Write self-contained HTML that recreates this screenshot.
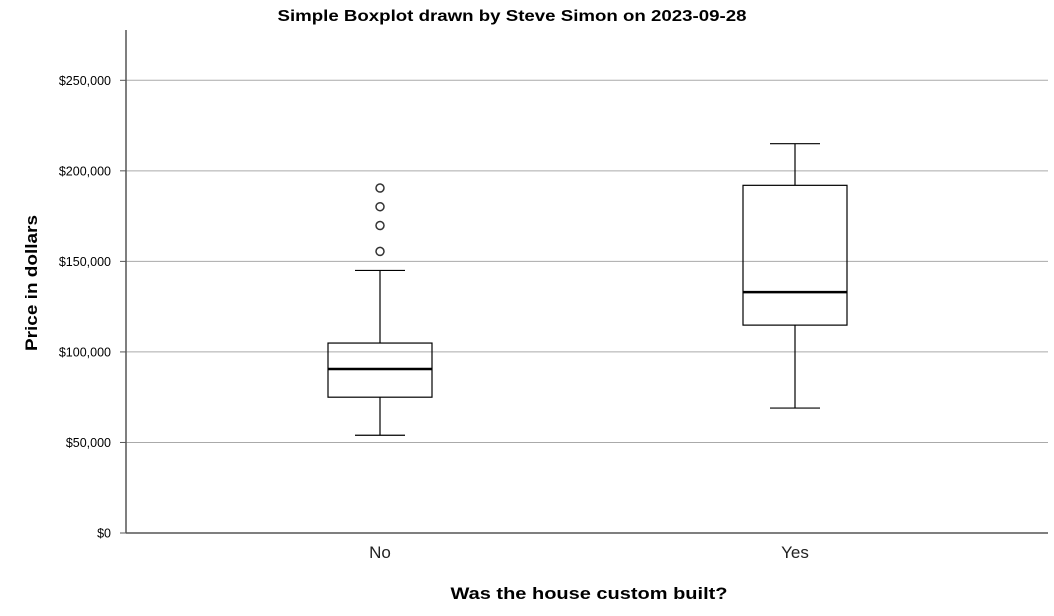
<!DOCTYPE html>
<html><head><meta charset="utf-8"><style>
body{margin:0;background:#fff;}
svg{display:block;font-family:"Liberation Sans",Arial,sans-serif;}
</style></head><body>
<svg id="chart" width="1054" height="616">
<text x="512" y="21" text-anchor="middle" font-size="16" font-weight="bold" textLength="469" lengthAdjust="spacingAndGlyphs">Simple Boxplot drawn by Steve Simon on 2023-09-28</text>
<text transform="translate(37,283) rotate(-90)" text-anchor="middle" font-size="17" font-weight="bold" textLength="136" lengthAdjust="spacingAndGlyphs">Price in dollars</text>
<text x="589" y="599" text-anchor="middle" font-size="17" font-weight="bold" textLength="277" lengthAdjust="spacingAndGlyphs">Was the house custom built?</text>
<g id="grid"></g><g id="marks"></g>
</svg>
<script>
const categories=["No","Yes"];
const mins=[54000,69000];
const q1s=[75000,114800];
const medians=[90600,133000];
const q3s=[104900,192000];
const maxs=[145000,215000];
const outliers=[[155500,169800,180200,190500],[]];
const yTicks=[0,50000,100000,150000,200000,250000];
const yTickLabels=["$0","$50,000","$100,000","$150,000","$200,000","$250,000"];
const NS="http://www.w3.org/2000/svg";
const L=126,R=1048,T=30,B=533;
function y(v){return B-v*(B-80.3)/250000;}
function x(i){return 380+i*415;}
function mk(tag,attrs,parent){const e=document.createElementNS(NS,tag);for(const k in attrs)e.setAttribute(k,attrs[k]);parent.appendChild(e);return e;}
const grid=document.getElementById('grid'),marks=document.getElementById('marks');
yTicks.forEach((v,i)=>{
 if(v>0){const g=mk('line',{x1:L,x2:R,y1:y(v),y2:y(v),stroke:'#aaa','stroke-width':1},grid);
 
 }
 const t=mk('line',{x1:120,x2:L,y1:y(v),y2:y(v),stroke:'#555'},grid);
 
 
 const tx=mk('text',{x:111,y:y(v)+4.5,'text-anchor':'end','font-size':12.5},grid);tx.textContent=yTickLabels[i];
 
 
});
const ax=mk('line',{x1:L,x2:L,y1:T,y2:B,stroke:'#555','stroke-width':1.5},grid);


const bx=mk('line',{x1:L,x2:R,y1:B,y2:B,stroke:'#555','stroke-width':1.5},grid);


categories.forEach((c,i)=>{
 const cx=x(i),hw=52,cw=25;
 const g=mk('g',{},marks);
 
 
 const st={stroke:'#000','stroke-width':1.2,fill:'none'};
 mk('line',Object.assign({x1:cx,x2:cx,y1:y(maxs[i]),y2:y(q3s[i])},st),g);
 mk('line',Object.assign({x1:cx,x2:cx,y1:y(q1s[i]),y2:y(mins[i])},st),g);
 mk('line',Object.assign({x1:cx-cw,x2:cx+cw,y1:y(maxs[i]),y2:y(maxs[i])},st),g);
 mk('line',Object.assign({x1:cx-cw,x2:cx+cw,y1:y(mins[i]),y2:y(mins[i])},st),g);
 mk('rect',Object.assign({x:cx-hw,y:y(q3s[i]),width:2*hw,height:y(q1s[i])-y(q3s[i])},st),g);
 mk('line',{x1:cx-hw,x2:cx+hw,y1:y(medians[i]),y2:y(medians[i]),stroke:'#000','stroke-width':2.5},g);
 outliers[i].forEach(o=>{const p=mk('circle',{cx:cx,cy:y(o),r:4,fill:'none',stroke:'#333','stroke-width':1.5},g);
  
  });
 const t=mk('text',{x:cx,y:558,'text-anchor':'middle','font-size':17,fill:'#222'},marks);t.textContent=c;
 
 
});
</script>
</body></html>
